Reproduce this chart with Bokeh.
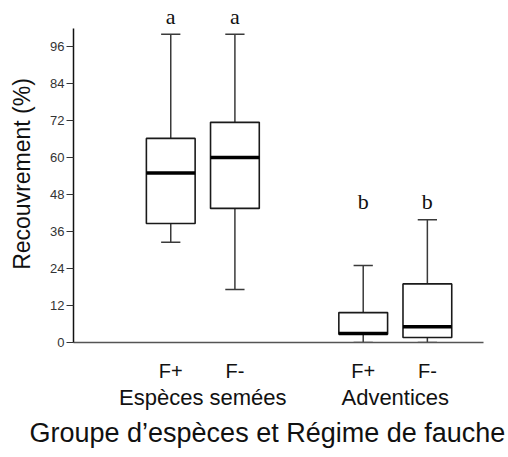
from bokeh.plotting import figure
from bokeh.models import Range1d, FixedTicker, LinearAxis, ColumnDataSource, LabelSet, Title
from bokeh.embed import file_html
from bokeh.resources import INLINE

# ---- data ----
groups = ["Espèces semées", "Adventices"]
regimes = ["F+", "F-"]
lower = [32.5, 17.2, 0.0, 0.0]
q1 = [38.6, 43.5, 2.7, 1.6]
median = [55.0, 60.0, 2.9, 5.1]
q3 = [66.2, 71.4, 9.7, 19.0]
upper = [100.0, 100.0, 25.0, 39.8]
letters = ["a", "a", "b", "b"]
y_ticks = [0, 12, 24, 36, 48, 60, 72, 84, 96]

# ---- layout helpers ----
xs = [1.5 + gi * 3 + ri for gi in range(len(groups)) for ri in range(len(regimes))]
tick_names = [r for g in groups for r in regimes]
group_x = [sum(xs[gi * 2:gi * 2 + 2]) / 2 for gi in range(len(groups))]
box_w = 0.76
cap_w = 0.30

src = ColumnDataSource(dict(
    x=xs, lower=lower, q1=q1, med=median, q3=q3, upper=upper,
    left=[x - box_w / 2 for x in xs], right=[x + box_w / 2 for x in xs],
    cl=[x - cap_w / 2 for x in xs], cr=[x + cap_w / 2 for x in xs],
))

# letters placed above the highest whisker of each group
grp_max = [max(upper[gi * 2:gi * 2 + 2]) for gi in range(len(groups))]
letter_y = [grp_max[i // 2] + 5.8 for i in range(len(xs))]
lsrc = ColumnDataSource(dict(x=xs, y=letter_y, t=letters))

p = figure(width=508, height=457, output_backend="svg", toolbar_location=None,
           x_range=Range1d(-0.016, 6.375), y_range=Range1d(0, 109.3),
           min_border_left=73, min_border_right=25, min_border_top=5, min_border_bottom=115)
p.xgrid.visible = False
p.ygrid.visible = False
p.outline_line_color = None
p.background_fill_color = "white"

# whiskers
p.segment(x0="x", y0="q3", x1="x", y1="upper", source=src, line_color="#3a3a3a", line_width=1.5)
p.segment(x0="x", y0="q1", x1="x", y1="lower", source=src, line_color="#3a3a3a", line_width=1.5)
p.segment(x0="cl", y0="upper", x1="cr", y1="upper", source=src, line_color="#3a3a3a", line_width=1.5)
p.segment(x0="cl", y0="lower", x1="cr", y1="lower", source=src, line_color="#3a3a3a", line_width=1.5)
# boxes
p.quad(left="left", right="right", top="q3", bottom="q1", source=src,
       fill_color="white", line_color="#1a1a1a", line_width=1.6)
# medians
p.segment(x0="left", y0="med", x1="right", y1="med", source=src, line_color="black", line_width=3.5)

# significance letters
p.add_layout(LabelSet(x="x", y="y", text="t", source=lsrc, text_align="center",
                      text_baseline="middle", text_font="Liberation Serif",
                      text_font_size="22px", text_color="#111"))

# y axis
ya = p.yaxis[0]
ya.ticker = FixedTicker(ticks=y_ticks)
ya.bounds = (0, 101.8)
ya.minor_tick_line_color = None
ya.major_tick_out = 7
ya.major_tick_in = 0
ya.major_label_standoff = 2
ya.major_label_text_font = "Liberation Sans"
ya.major_label_text_font_size = "13px"
ya.major_label_text_color = "#333"
ya.axis_line_width = 1.5
ya.axis_line_color = "#111"
ya.major_tick_line_color = "#333"
ya.axis_label = "Recouvrement (%)"
ya.axis_label_text_font = "Liberation Sans"
ya.axis_label_text_font_size = "23px"
ya.axis_label_text_font_style = "normal"
ya.axis_label_text_color = "#111"
ya.axis_label_standoff = 12

# x axis: regimes
xa = p.xaxis[0]
xa.ticker = FixedTicker(ticks=xs)
xa.major_label_overrides = {x: n for x, n in zip(xs, tick_names)}
xa.minor_tick_line_color = None
xa.major_tick_line_color = None
xa.major_tick_out = 0
xa.major_tick_in = 0
xa.major_label_standoff = 17
xa.major_label_text_font = "Liberation Sans"
xa.major_label_text_font_size = "20px"
xa.major_label_text_color = "#111"
xa.axis_line_color = "#555"
xa.axis_line_width = 1.5

# x axis: groups
ga = LinearAxis(ticker=FixedTicker(ticks=group_x),
                major_label_overrides={x: g for x, g in zip(group_x, groups)})
ga.axis_line_color = None
ga.major_tick_line_color = None
ga.minor_tick_line_color = None
ga.major_tick_out = 0
ga.major_tick_in = 0
ga.major_label_standoff = 0
ga.major_label_text_font = "Liberation Sans"
ga.major_label_text_font_size = "22px"
ga.major_label_text_color = "#111"
p.add_layout(ga, "below")

# overall x title
p.add_layout(Title(text="Groupe d\u2019espèces et Régime de fauche", align="left", offset=-44,
                   text_font="Liberation Sans", text_font_size="27px",
                   text_font_style="normal", text_color="#111", standoff=6), "below")

open("out.html", "w").write(file_html(p, INLINE))
